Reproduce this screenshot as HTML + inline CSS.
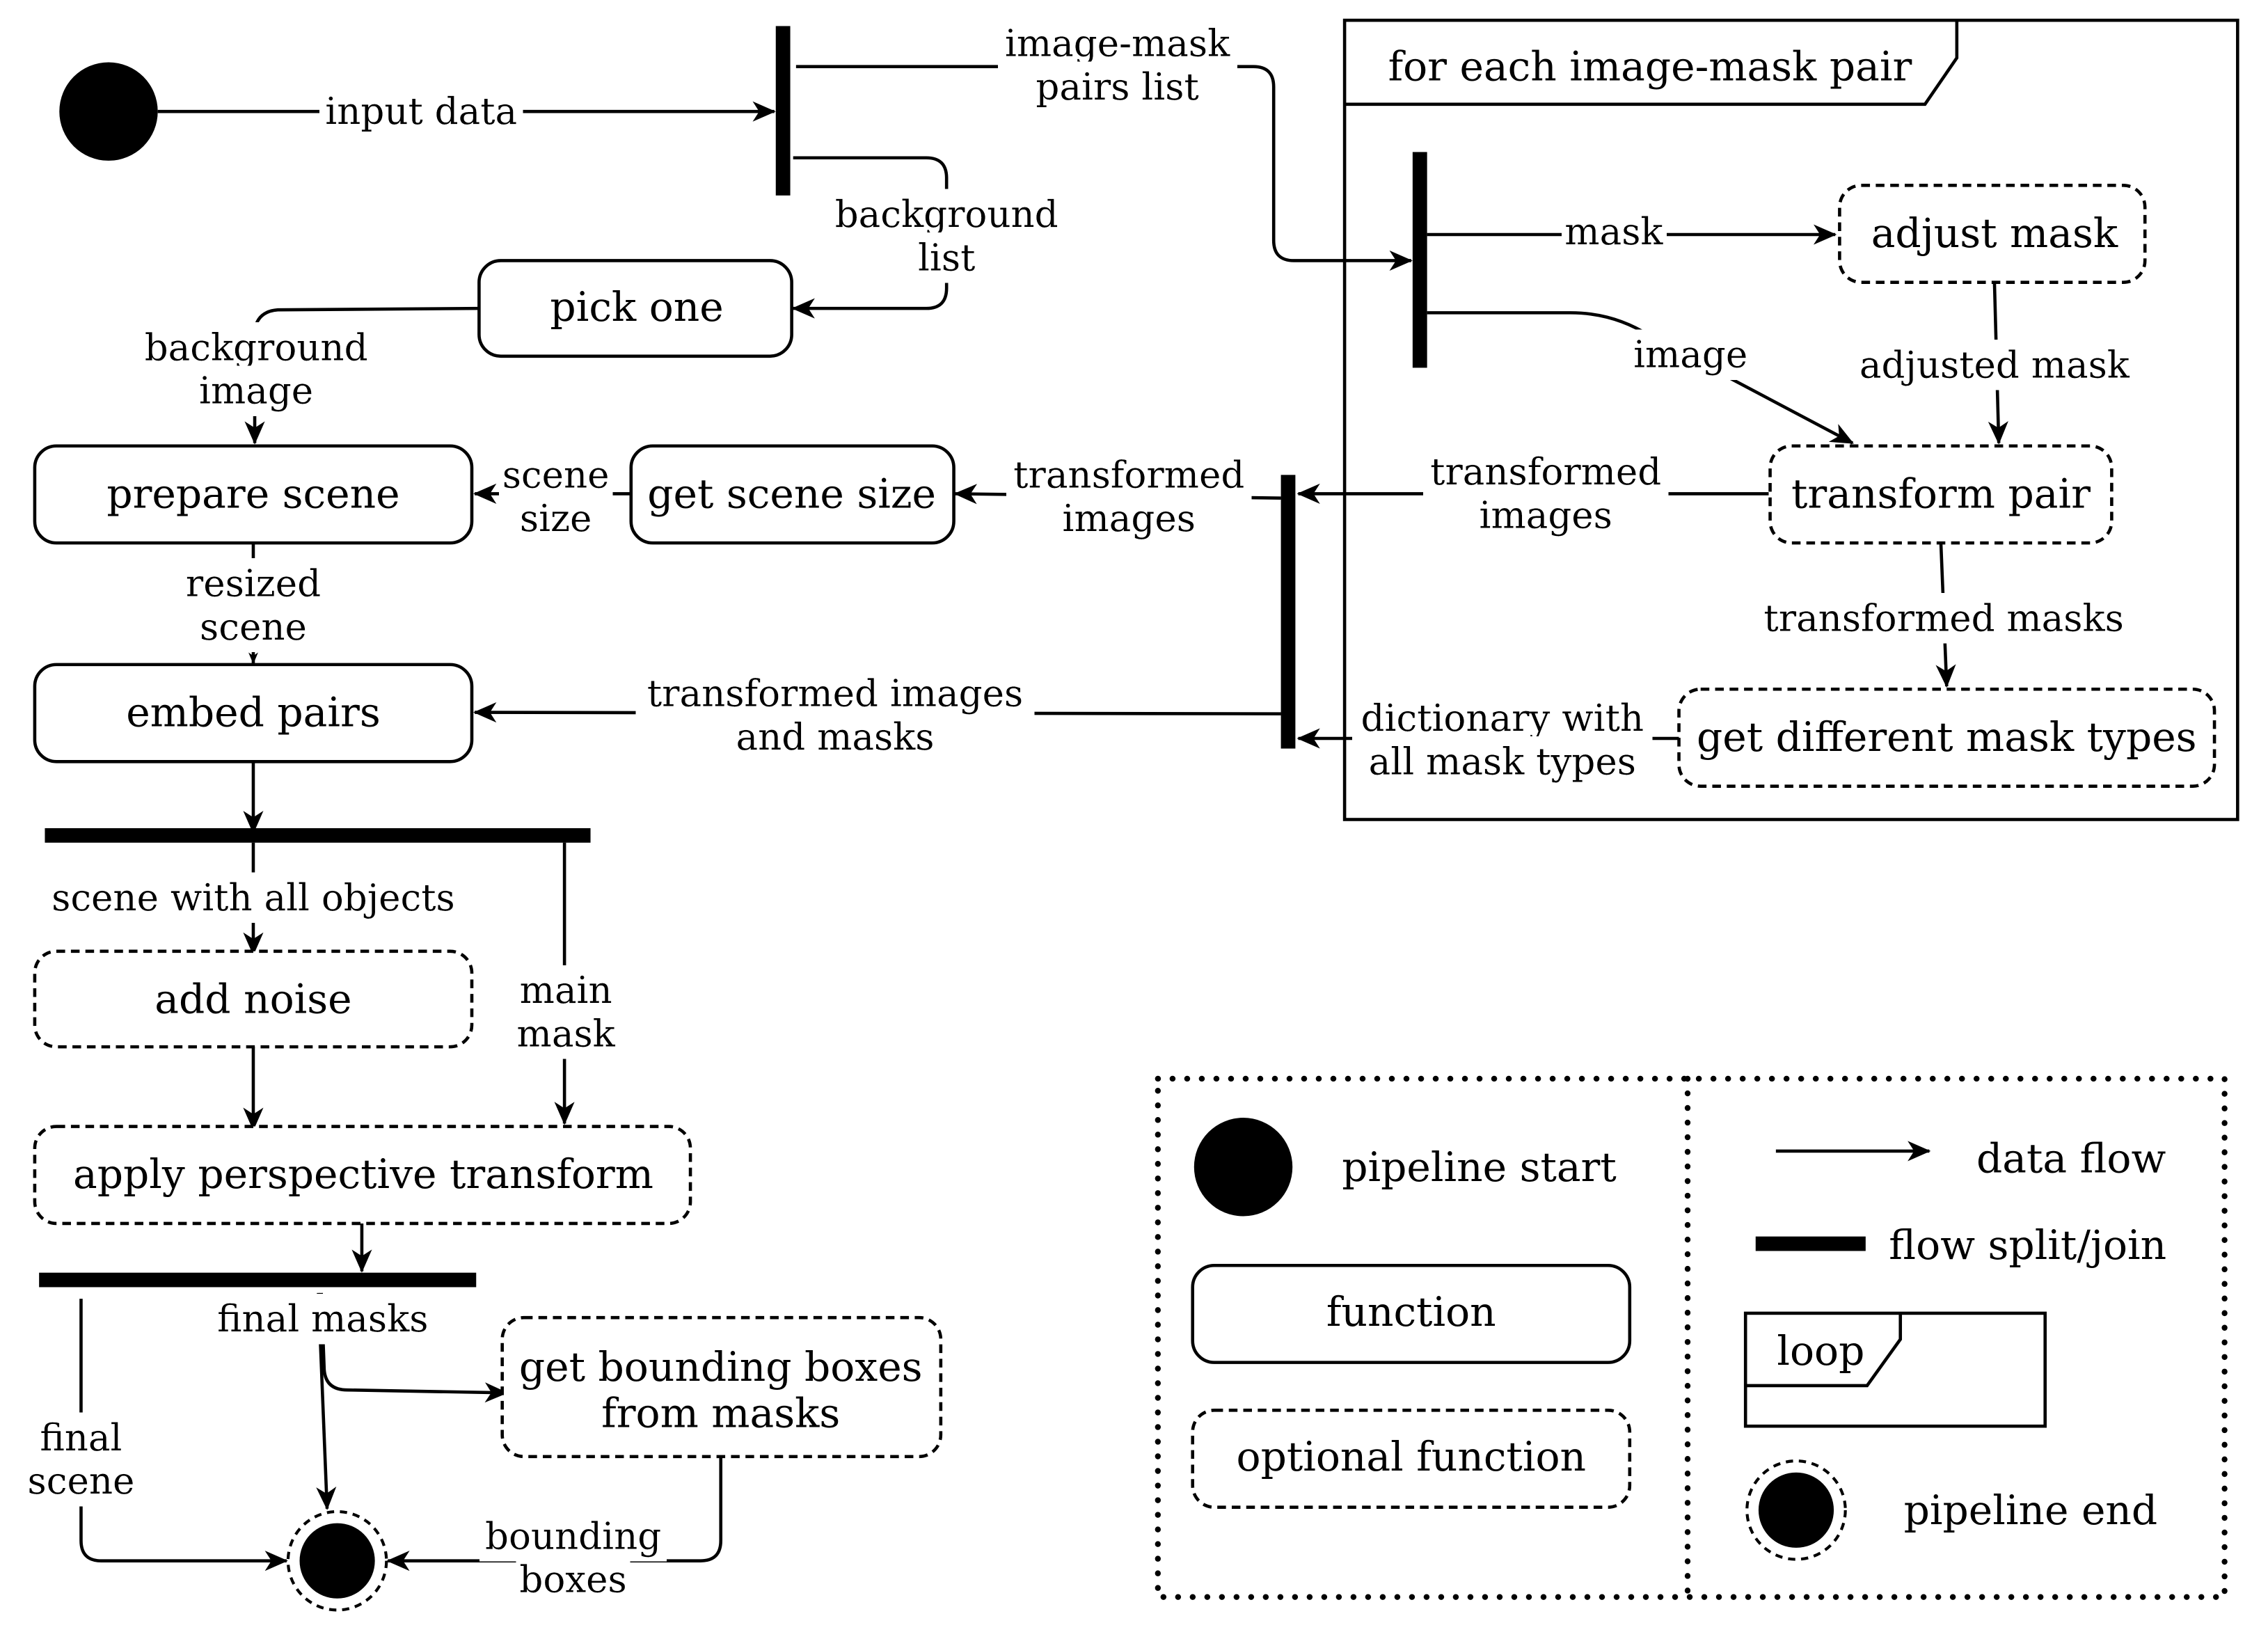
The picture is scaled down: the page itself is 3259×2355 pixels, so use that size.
<!DOCTYPE html>
<html><head><meta charset="utf-8"><style>html,body{margin:0;padding:0;background:#fff}svg{display:block}</style></head><body>
<svg width="3259" height="2355" viewBox="0 0 1567 1132" preserveAspectRatio="none" xmlns="http://www.w3.org/2000/svg">
<defs>
<marker id="a" viewBox="0 0 16 14" refX="15" refY="7" markerWidth="16" markerHeight="14" markerUnits="userSpaceOnUse" orient="auto"><path d="M0,0 L16,7 L0,14 L4.5,7 z" fill="#000"/></marker>
<marker id="s" viewBox="0 0 12 10" refX="11" refY="5" markerWidth="8" markerHeight="7" markerUnits="userSpaceOnUse" orient="auto"><path d="M0,0 L12,5 L0,10 L3.5,5 z" fill="#000"/></marker>
<filter id="bg" x="-0.03" y="-0.08" width="1.06" height="1.16"><feFlood flood-color="#fff" result="f"/><feMerge><feMergeNode in="f"/><feMergeNode in="SourceGraphic"/></feMerge></filter>
</defs>
<style>
.l{fill:none;stroke:#000;stroke-width:2.2}
.b{fill:#fff;stroke:#000;stroke-width:2.2}
.d{fill:#fff;stroke:#000;stroke-width:2.2;stroke-dasharray:6,4}
text{font-family:"DejaVu Serif","Liberation Serif",serif;fill:#000;text-anchor:middle;dominant-baseline:central}
.t{font-size:28px}
.e{font-size:25.5px;filter:url(#bg)}
</style>
<rect width="1567" height="1132" fill="#fff"/>

<rect x="929" y="14" width="617" height="552" class="l"/>
<path d="M929,72 L1330,72 L1352,40 L1352,14" class="l"/>
<text x="1140" y="46" class="t">for each image-mask pair</text>

<path d="M109,77 L535,77" class="l" marker-end="url(#a)"/>
<path d="M550,46 L866,46 Q880,46 880,60 L880,166 Q880,180 894,180 L975,180" class="l" marker-end="url(#a)"/>
<path d="M548,109 L640,109 Q654,109 654,123 L654,199 Q654,213 640,213 L548,213" class="l" marker-end="url(#a)"/>
<path d="M331,213 L192,214 Q178,215 176,228 L176,306" class="l" marker-end="url(#a)"/>
<path d="M436,341 L328,341" class="l" marker-end="url(#a)"/>
<path d="M885,344 L660,341" class="l" marker-end="url(#a)"/>
<path d="M1222,341 L897,341" class="l" marker-end="url(#a)"/>
<path d="M885,493 L328,492" class="l" marker-end="url(#a)"/>
<path d="M1160,510 L897,510" class="l" marker-end="url(#a)"/>
<path d="M986,162 L1268,162" class="l" marker-end="url(#a)"/>
<path d="M986,216 L1085,216 Q1115,216 1140,232 L1280,306" class="l" marker-end="url(#a)"/>
<path d="M1378,195 L1381,306" class="l" marker-end="url(#a)"/>
<path d="M1341,375 L1345,474" class="l" marker-end="url(#a)"/>
<path d="M175,375 L175,458" class="l" marker-end="url(#s)"/>
<path d="M175,526 L175,575" class="l" marker-end="url(#a)"/>
<path d="M175,582 L175,659" class="l" marker-end="url(#a)"/>
<path d="M390,582 L390,776" class="l" marker-end="url(#a)"/>
<path d="M175,723 L175,780" class="l" marker-end="url(#a)"/>
<path d="M250,845 L250,878" class="l" marker-end="url(#a)"/>
<path d="M56,897 L56,1064 Q56,1078 70,1078 L198,1078" class="l" marker-end="url(#a)"/>
<path d="M220,893 L226,1042" class="l" marker-end="url(#a)"/>
<path d="M222,893 L224,946 Q225,960 240,960 L350,962" class="l" marker-end="url(#a)"/>
<path d="M498,1006 L498,1064 Q498,1078 484,1078 L268,1078" class="l" marker-end="url(#a)"/>

<rect x="536" y="18" width="10" height="117" fill="#000"/>
<rect x="976" y="105" width="10" height="149" fill="#000"/>
<rect x="885" y="328" width="10" height="189" fill="#000"/>
<rect x="31" y="572" width="377" height="10" fill="#000"/>
<rect x="27" y="879" width="302" height="10" fill="#000"/>

<circle cx="75" cy="77" r="34" fill="#000"/>
<circle cx="233" cy="1078" r="34" fill="#fff" stroke="#000" stroke-width="2" stroke-dasharray="5,4"/>
<circle cx="233" cy="1078" r="26" fill="#000"/>

<rect x="331" y="180" width="216" height="66" rx="15" class="b"/><text x="440" y="212" class="t">pick one</text>
<rect x="24" y="308" width="302" height="67" rx="15" class="b"/><text x="175" y="341" class="t">prepare scene</text>
<rect x="436" y="308" width="223" height="67" rx="15" class="b"/><text x="547" y="341" class="t">get scene size</text>
<rect x="24" y="459" width="302" height="67" rx="15" class="b"/><text x="175" y="492" class="t">embed pairs</text>
<rect x="1271" y="128" width="211" height="67" rx="15" class="d"/><text x="1378" y="161" class="t">adjust mask</text>
<rect x="1223" y="308" width="236" height="67" rx="15" class="d"/><text x="1341" y="341" class="t">transform pair</text>
<rect x="1160" y="476" width="370" height="67" rx="15" class="d"/><text x="1345" y="509" class="t">get different mask types</text>
<rect x="24" y="657" width="302" height="66" rx="15" class="d"/><text x="175" y="690" class="t">add noise</text>
<rect x="24" y="778" width="453" height="67" rx="15" class="d"/><text x="251" y="811" class="t">apply perspective transform</text>
<rect x="347" y="910" width="303" height="96" rx="15" class="d"/><text x="498" y="944" class="t">get bounding boxes</text><text x="498" y="976" class="t">from masks</text>

<text x="291" y="77" class="e">input data</text>
<text x="772" y="30" class="e">image-mask</text><text x="772" y="60" class="e">pairs list</text>
<text x="654" y="148" class="e">background</text><text x="654" y="178" class="e">list</text>
<text x="177" y="240" class="e">background</text><text x="177" y="270" class="e">image</text>
<text x="384" y="328" class="e">scene</text><text x="384" y="358" class="e">size</text>
<text x="780" y="328" class="e">transformed</text><text x="780" y="358" class="e">images</text>
<text x="1068" y="326" class="e">transformed</text><text x="1068" y="356" class="e">images</text>
<text x="577" y="479" class="e">transformed images</text><text x="577" y="509" class="e">and masks</text>
<text x="1038" y="496" class="e">dictionary with</text><text x="1038" y="526" class="e">all mask types</text>
<text x="1115" y="160" class="e">mask</text>
<text x="1168" y="245" class="e">image</text>
<text x="1378" y="252" class="e">adjusted mask</text>
<text x="1343" y="427" class="e">transformed masks</text>
<text x="175" y="403" class="e">resized</text><text x="175" y="433" class="e">scene</text>
<text x="175" y="620" class="e">scene with all objects</text>
<text x="391" y="684" class="e">main</text><text x="391" y="714" class="e">mask</text>
<text x="223" y="911" class="e">final masks</text>
<text x="56" y="993" class="e">final</text><text x="56" y="1023" class="e">scene</text>
<text x="396" y="1061" class="e">bounding</text><text x="396" y="1091" class="e">boxes</text>

<g fill="none" stroke="#000" stroke-width="4" stroke-dasharray="0.1,10" stroke-linecap="round">
<rect x="800" y="745" width="737" height="358"/>
<path d="M1166,745 L1166,1103"/>
</g>
<circle cx="859" cy="806" r="34" fill="#000"/>
<text x="1022" y="806" class="t">pipeline start</text>
<rect x="824" y="874" width="302" height="67" rx="15" class="b"/><text x="975" y="906" class="t">function</text>
<rect x="824" y="974" width="302" height="67" rx="15" class="d"/><text x="975" y="1006" class="t">optional function</text>
<path d="M1227,795 L1333,795" class="l" marker-end="url(#a)"/>
<text x="1431" y="800" class="t">data flow</text>
<rect x="1213" y="854" width="76" height="10" fill="#000"/>
<text x="1401" y="860" class="t">flow split/join</text>
<rect x="1206" y="907" width="207" height="78" class="l"/>
<path d="M1206,957 L1290,957 L1313,925 L1313,907" class="l"/>
<text x="1258" y="933" class="t">loop</text>
<circle cx="1241" cy="1043" r="34" fill="#fff" stroke="#000" stroke-width="2" stroke-dasharray="5,4"/>
<circle cx="1241" cy="1043" r="26" fill="#000"/>
<text x="1403" y="1043" class="t">pipeline end</text>
</svg>
</body></html>
